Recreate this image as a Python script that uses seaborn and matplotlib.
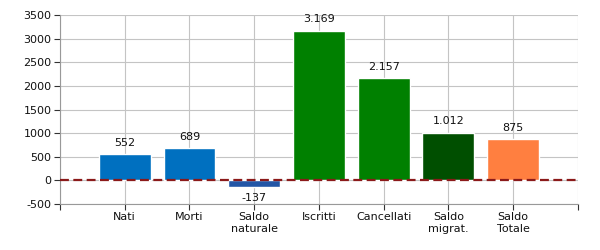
import matplotlib
matplotlib.use("Agg")
import matplotlib.pyplot as plt
import seaborn as sns
import pandas as pd

categories = ["Nati", "Morti", "Saldo\nnaturale", "Iscritti", "Cancellati", "Saldo\nmigrat.", "Saldo\nTotale"]
values = [552, 689, -137, 3169, 2157, 1012, 875]
colors = ["#0070C0", "#0070C0", "#2356A6", "#008000", "#008000", "#004F00", "#FF7F40"]
y_ticks = [-500, 0, 500, 1000, 1500, 2000, 2500, 3000, 3500]

sns.set_style("white")
plt.rcParams['font.family'] = ['DejaVu Sans']

df = pd.DataFrame({"cat": categories, "val": values})
fig = plt.figure(figsize=(6, 2.5), dpi=100)
ax = fig.add_axes([0.1, 0.184, 0.863, 0.756])

sns.barplot(data=df, x="cat", y="val", hue="cat", palette=colors, legend=False,
            width=0.8, saturation=1, ax=ax, zorder=2)

ax.set_xlim(-1, 7)
ax.set_ylim(-500, 3500)
ax.set_xticks(range(-1, 8))
ax.set_xticklabels([""] + categories + [""], fontsize=8, color="#111111")
ax.set_yticks(y_ticks)
ax.set_yticklabels([str(v) for v in y_ticks], fontsize=8, color="#111111")
ax.set_xlabel("")
ax.set_ylabel("")
ax.grid(True, color="#C4C4C4", linewidth=0.8, zorder=0)
ax.set_axisbelow(True)
for s in ["top", "right"]:
    ax.spines[s].set_visible(False)
for s in ["left", "bottom"]:
    ax.spines[s].set_color("#999999")
    ax.spines[s].set_linewidth(0.8)
ax.tick_params(axis="both", direction="out", length=4, width=0.8, color="#333333",
               pad=2, bottom=True, left=True)

ax.axhline(0, color="#8B1A1A", linestyle=(0, (4, 2)), linewidth=1.6, zorder=3)

for i, v in enumerate(values):
    label = f"{v:,}".replace(",", ".")
    if v >= 0:
        ax.text(i, v + 130, label, ha="center", va="bottom", fontsize=8, color="#111111")
    else:
        ax.text(i, v - 130, label, ha="center", va="top", fontsize=8, color="#111111")

fig.savefig("out.png", dpi=100)
